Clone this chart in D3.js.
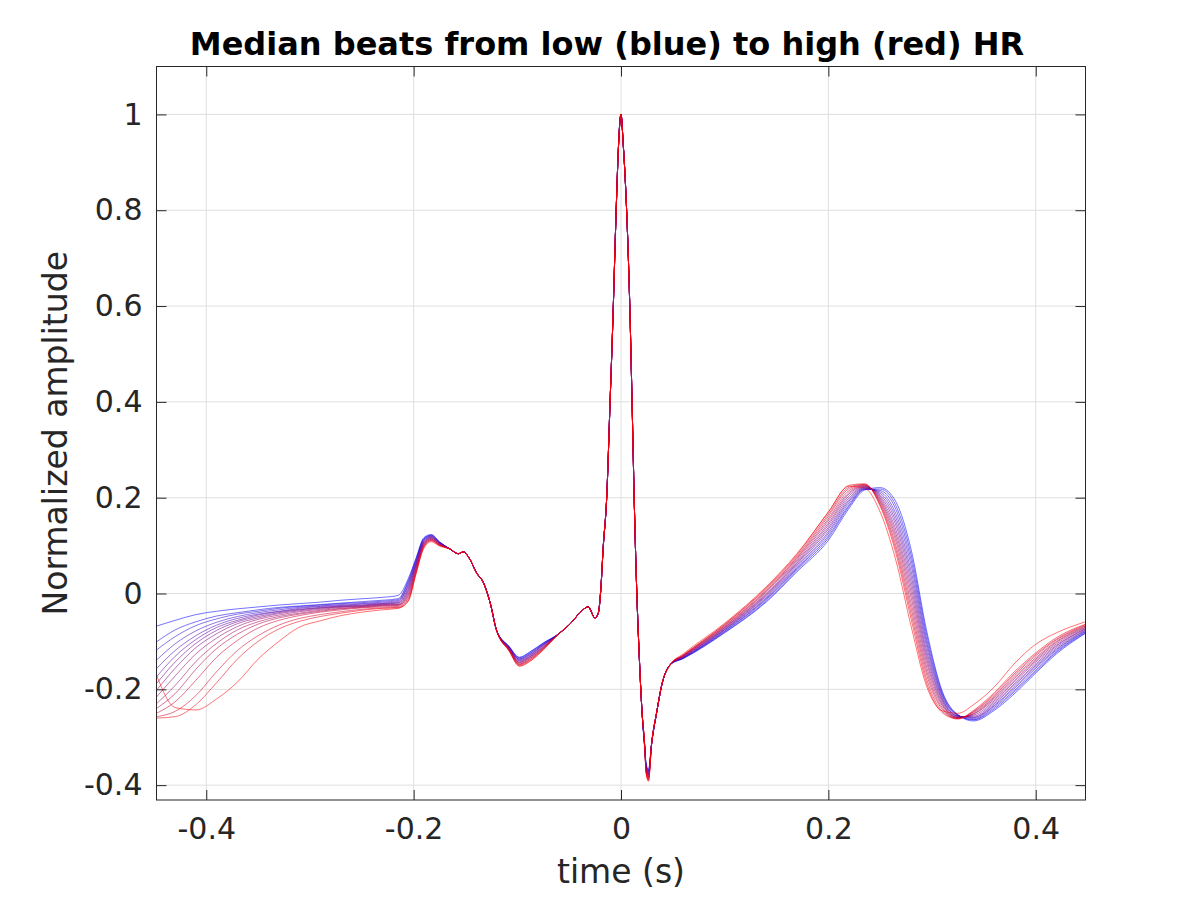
<!DOCTYPE html>
<html>
<head>
<meta charset="utf-8">
<script src="https://cdn.jsdelivr.net/npm/d3@7"></script>
<style>
  body { margin: 0; background: #fff; }
  svg text { font-family: "DejaVu Sans", sans-serif; fill: #262626; }
</style>
</head>
<body>
<div id="chart"></div>
<script>
// series go from low HR (index 0, blue) to high HR (last, red)

// baseline + P wave, one row per series
const leftT = [-0.448, -0.43, -0.41, -0.39, -0.37, -0.35, -0.33, -0.31, -0.29, -0.27, -0.25, -0.23, -0.215, -0.205, -0.198, -0.19, -0.183, -0.175];
const leftY = [
    [-0.068, -0.056, -0.044, -0.037, -0.032, -0.028, -0.024, -0.021, -0.018, -0.014, -0.011, -0.008, -0.004, 0.032, 0.072, 0.117, 0.123, 0.108],
    [-0.101, -0.076, -0.059, -0.047, -0.040, -0.034, -0.029, -0.026, -0.023, -0.020, -0.017, -0.014, -0.011, 0.028, 0.070, 0.115, 0.122, 0.107],
    [-0.118, -0.090, -0.067, -0.053, -0.043, -0.037, -0.031, -0.027, -0.024, -0.021, -0.019, -0.016, -0.013, 0.025, 0.067, 0.114, 0.121, 0.107],
    [-0.139, -0.105, -0.078, -0.060, -0.048, -0.040, -0.034, -0.029, -0.026, -0.023, -0.021, -0.018, -0.015, 0.021, 0.065, 0.112, 0.120, 0.106],
    [-0.157, -0.119, -0.088, -0.066, -0.052, -0.043, -0.037, -0.031, -0.027, -0.025, -0.022, -0.020, -0.017, 0.018, 0.062, 0.111, 0.119, 0.106],
    [-0.174, -0.131, -0.096, -0.071, -0.056, -0.045, -0.038, -0.033, -0.029, -0.026, -0.024, -0.021, -0.019, 0.014, 0.060, 0.109, 0.118, 0.105],
    [-0.188, -0.143, -0.104, -0.077, -0.059, -0.048, -0.040, -0.034, -0.030, -0.027, -0.025, -0.022, -0.020, 0.010, 0.057, 0.108, 0.117, 0.104],
    [-0.202, -0.156, -0.113, -0.084, -0.063, -0.051, -0.042, -0.036, -0.031, -0.028, -0.026, -0.023, -0.022, 0.007, 0.055, 0.106, 0.116, 0.104],
    [-0.216, -0.172, -0.126, -0.093, -0.069, -0.054, -0.045, -0.038, -0.033, -0.029, -0.027, -0.024, -0.023, 0.003, 0.052, 0.105, 0.115, 0.103],
    [-0.230, -0.192, -0.142, -0.104, -0.076, -0.059, -0.048, -0.041, -0.035, -0.031, -0.028, -0.025, -0.024, -0.001, 0.050, 0.103, 0.114, 0.103],
    [-0.240, -0.209, -0.158, -0.115, -0.085, -0.064, -0.051, -0.043, -0.037, -0.032, -0.029, -0.026, -0.025, -0.004, 0.047, 0.102, 0.113, 0.102],
    [-0.250, -0.226, -0.181, -0.133, -0.098, -0.072, -0.056, -0.046, -0.039, -0.034, -0.030, -0.028, -0.027, -0.008, 0.045, 0.100, 0.112, 0.101],
    [-0.257, -0.246, -0.213, -0.163, -0.119, -0.088, -0.066, -0.052, -0.044, -0.038, -0.033, -0.030, -0.029, -0.011, 0.042, 0.099, 0.111, 0.101],
    [-0.260, -0.257, -0.232, -0.186, -0.137, -0.100, -0.074, -0.058, -0.048, -0.041, -0.035, -0.031, -0.030, -0.015, 0.040, 0.097, 0.110, 0.100],
    [-0.170, -0.238, -0.243, -0.220, -0.185, -0.137, -0.100, -0.070, -0.057, -0.046, -0.039, -0.034, -0.031, -0.015, 0.038, 0.095, 0.108, 0.099]
];

// part shared by all beats (end of P wave, QRS)
const commonT = [-0.165, -0.157, -0.152, -0.147, -0.139, -0.133, -0.126, -0.12, -0.06, -0.048, -0.04, -0.0316, -0.0251, -0.0219, -0.0196, -0.0171, -0.0138, -0.0106, -0.0074, -0.0058, -0.0042, -0.0026, 0, 0.0022, 0.0055, 0.0087, 0.0109, 0.0128, 0.0152, 0.0177, 0.02, 0.0232, 0.0296, 0.0345, 0.0393, 0.0473];
const commonY = [0.093, 0.083, 0.087, 0.076, 0.042, 0.024, -0.021, -0.077, -0.084, -0.061, -0.041, -0.028, -0.051, -0.041, 0.005, 0.098, 0.200, 0.396, 0.600, 0.720, 0.830, 0.925, 1.000, 0.936, 0.796, 0.582, 0.377, 0.191, 0.005, -0.135, -0.237, -0.331, -0.312, -0.247, -0.191, -0.149];

// PR segment dip
const troughT = [-0.108, -0.098, -0.088, -0.075];
const troughY = [
    [-0.110, -0.133, -0.122, -0.103],
    [-0.111, -0.134, -0.123, -0.104],
    [-0.111, -0.136, -0.125, -0.105],
    [-0.112, -0.137, -0.126, -0.106],
    [-0.113, -0.138, -0.128, -0.107],
    [-0.114, -0.140, -0.129, -0.108],
    [-0.114, -0.141, -0.131, -0.109],
    [-0.115, -0.143, -0.132, -0.111],
    [-0.116, -0.144, -0.133, -0.112],
    [-0.116, -0.145, -0.135, -0.113],
    [-0.117, -0.147, -0.136, -0.114],
    [-0.118, -0.148, -0.138, -0.115],
    [-0.119, -0.149, -0.139, -0.116],
    [-0.119, -0.151, -0.141, -0.117],
    [-0.120, -0.152, -0.142, -0.118]
];

// S wave bottom
const sWaveT = [0.024, 0.0265];
const sWaveY = [
    [-0.352, -0.368], [-0.353, -0.370], [-0.355, -0.371], [-0.356, -0.373], [-0.358, -0.375],
    [-0.359, -0.377], [-0.361, -0.378], [-0.362, -0.380], [-0.363, -0.382], [-0.365, -0.383],
    [-0.366, -0.385], [-0.368, -0.387], [-0.369, -0.389], [-0.371, -0.390], [-0.372, -0.392]
];

// ST segment + T wave
const tWaveT = [0.06, 0.10, 0.14, 0.17, 0.20, 0.22, 0.235, 0.25, 0.265, 0.28, 0.295, 0.31, 0.325, 0.34, 0.36, 0.38, 0.40, 0.42, 0.448];
const tWaveY = [
    [-0.136, -0.082, -0.018, 0.046, 0.111, 0.178, 0.216, 0.221, 0.192, 0.090, -0.080, -0.205, -0.253, -0.266, -0.244, -0.208, -0.166, -0.126, -0.083],
    [-0.135, -0.081, -0.016, 0.049, 0.116, 0.182, 0.217, 0.218, 0.184, 0.079, -0.088, -0.208, -0.254, -0.264, -0.241, -0.204, -0.163, -0.123, -0.082],
    [-0.135, -0.079, -0.013, 0.052, 0.120, 0.185, 0.218, 0.215, 0.176, 0.068, -0.097, -0.212, -0.254, -0.263, -0.238, -0.201, -0.160, -0.121, -0.080],
    [-0.134, -0.078, -0.011, 0.054, 0.125, 0.189, 0.219, 0.212, 0.167, 0.057, -0.105, -0.215, -0.255, -0.261, -0.235, -0.197, -0.156, -0.118, -0.079],
    [-0.134, -0.076, -0.009, 0.057, 0.129, 0.193, 0.220, 0.209, 0.159, 0.045, -0.113, -0.219, -0.256, -0.259, -0.233, -0.194, -0.153, -0.116, -0.077],
    [-0.133, -0.075, -0.006, 0.060, 0.134, 0.196, 0.221, 0.206, 0.151, 0.034, -0.122, -0.222, -0.256, -0.258, -0.230, -0.190, -0.150, -0.113, -0.076],
    [-0.132, -0.074, -0.004, 0.063, 0.138, 0.200, 0.222, 0.203, 0.143, 0.023, -0.130, -0.225, -0.257, -0.256, -0.227, -0.187, -0.147, -0.110, -0.074],
    [-0.132, -0.072, -0.002, 0.065, 0.143, 0.204, 0.223, 0.200, 0.134, 0.012, -0.138, -0.229, -0.258, -0.254, -0.224, -0.183, -0.143, -0.108, -0.073],
    [-0.131, -0.071, 0.000, 0.068, 0.147, 0.208, 0.224, 0.197, 0.126, 0.001, -0.146, -0.232, -0.259, -0.252, -0.221, -0.180, -0.140, -0.105, -0.071],
    [-0.130, -0.070, 0.003, 0.071, 0.152, 0.211, 0.225, 0.194, 0.118, -0.010, -0.155, -0.235, -0.259, -0.251, -0.218, -0.176, -0.137, -0.102, -0.070],
    [-0.130, -0.068, 0.005, 0.074, 0.156, 0.215, 0.226, 0.191, 0.110, -0.022, -0.163, -0.239, -0.260, -0.249, -0.216, -0.173, -0.134, -0.100, -0.068],
    [-0.129, -0.067, 0.007, 0.076, 0.161, 0.219, 0.227, 0.188, 0.101, -0.033, -0.171, -0.242, -0.261, -0.247, -0.213, -0.169, -0.130, -0.097, -0.067],
    [-0.129, -0.065, 0.010, 0.079, 0.165, 0.222, 0.228, 0.185, 0.093, -0.044, -0.180, -0.246, -0.261, -0.246, -0.210, -0.166, -0.127, -0.095, -0.065],
    [-0.128, -0.064, 0.012, 0.082, 0.170, 0.226, 0.229, 0.182, 0.085, -0.055, -0.188, -0.249, -0.262, -0.244, -0.207, -0.162, -0.124, -0.092, -0.064],
    [-0.126, -0.062, 0.014, 0.084, 0.170, 0.224, 0.220, 0.170, 0.070, -0.070, -0.195, -0.245, -0.250, -0.232, -0.195, -0.145, -0.106, -0.082, -0.059]
];

const xTicks = [-0.4, -0.2, 0, 0.2, 0.4];
const xTickLabels = ["-0.4", "-0.2", "0", "0.2", "0.4"];
const yTicks = [-0.4, -0.2, 0, 0.2, 0.4, 0.6, 0.8, 1];
const yTickLabels = ["-0.4", "-0.2", "0", "0.2", "0.4", "0.6", "0.8", "1"];

const plot = { left: 156.5, right: 1085.5, top: 66.5, bottom: 800 };

const svg = d3.select("#chart")
    .append("svg")
    .attr("width", 1200)
    .attr("height", 900)
    .style("background", "#fff");

const x = d3.scaleLinear().domain([-0.448, 0.448]).range([plot.left, plot.right]);
const y = d3.scaleLinear().domain([-0.431, 1.1]).range([plot.bottom, plot.top]);

// grid
svg.append("g").selectAll("line")
    .data(xTicks)
    .enter()
    .append("line")
    .attr("x1", d => x(d)).attr("x2", d => x(d))
    .attr("y1", plot.top).attr("y2", plot.bottom)
    .attr("stroke", "#dfdfdf").attr("stroke-width", 1);

svg.append("g").selectAll("line")
    .data(yTicks)
    .enter()
    .append("line")
    .attr("x1", plot.left).attr("x2", plot.right)
    .attr("y1", d => y(d)).attr("y2", d => y(d))
    .attr("stroke", "#dfdfdf").attr("stroke-width", 1);

// beats
const n = leftY.length;
const series = d3.range(n).map(i => {
    const pts = []
        .concat(leftT.map((t, j) => [t, leftY[i][j]]))
        .concat(commonT.map((t, j) => [t, commonY[j]]))
        .concat(troughT.map((t, j) => [t, troughY[i][j]]))
        .concat(sWaveT.map((t, j) => [t, sWaveY[i][j]]))
        .concat(tWaveT.map((t, j) => [t, tWaveY[i][j]]));
    return pts.sort((a, b) => a[0] - b[0]);
});

const color = d3.interpolateRgb("rgb(0,0,255)", "rgb(255,0,0)");
const line = d3.line()
    .x(d => x(d[0]))
    .y(d => y(d[1]))
    .curve(d3.curveMonotoneX);

svg.append("defs").append("clipPath").attr("id", "clip")
    .append("rect")
    .attr("x", plot.left).attr("y", plot.top)
    .attr("width", plot.right - plot.left).attr("height", plot.bottom - plot.top);

svg.append("g")
    .attr("clip-path", "url(#clip)")
    .selectAll("path")
    .data(series)
    .enter()
    .append("path")
    .attr("d", line)
    .attr("fill", "none")
    .attr("stroke", (d, i) => color(i / (n - 1)))
    .attr("stroke-opacity", 0.55)
    .attr("stroke-width", 1);

// axes, matlab style: ticks inside, box all round
const tickLen = 10;

const xAxis = d3.axisBottom(x).tickValues(xTicks)
    .tickFormat((d, i) => xTickLabels[i])
    .tickSizeInner(-tickLen).tickSizeOuter(0).tickPadding(18);
const yAxis = d3.axisLeft(y).tickValues(yTicks)
    .tickFormat((d, i) => yTickLabels[i])
    .tickSizeInner(-tickLen).tickSizeOuter(0).tickPadding(14);

svg.append("g")
    .attr("transform", `translate(0,${plot.bottom})`)
    .call(xAxis);
svg.append("g")
    .attr("transform", `translate(${plot.left},0)`)
    .call(yAxis);

svg.append("g")
    .attr("transform", `translate(0,${plot.top})`)
    .call(d3.axisTop(x).tickValues(xTicks).tickFormat("").tickSizeInner(-tickLen).tickSizeOuter(0));
svg.append("g")
    .attr("transform", `translate(${plot.right},0)`)
    .call(d3.axisRight(y).tickValues(yTicks).tickFormat("").tickSizeInner(-tickLen).tickSizeOuter(0));

svg.selectAll(".domain").remove();
svg.selectAll(".tick line").attr("stroke", "#262626");
svg.selectAll(".tick text")
    .style("font-family", "'DejaVu Sans', sans-serif")
    .style("font-size", "30px")
    .attr("fill", "#262626");

svg.append("rect")
    .attr("x", plot.left).attr("y", plot.top)
    .attr("width", plot.right - plot.left).attr("height", plot.bottom - plot.top)
    .attr("fill", "none")
    .attr("stroke", "#262626")
    .attr("stroke-width", 1);

// labels
svg.append("text")
    .attr("x", 607)
    .attr("y", 55)
    .attr("text-anchor", "middle")
    .style("font-size", "32px")
    .style("font-weight", "bold")
    .style("fill", "#000")
    .text("Median beats from low (blue) to high (red) HR");

svg.append("text")
    .attr("x", (plot.left + plot.right) / 2)
    .attr("y", 883)
    .attr("text-anchor", "middle")
    .style("font-size", "33px")
    .text("time (s)");

svg.append("text")
    .attr("transform", `translate(67,${(plot.top + plot.bottom) / 2}) rotate(-90)`)
    .attr("text-anchor", "middle")
    .style("font-size", "33px")
    .text("Normalized amplitude");
</script>
</body>
</html>
